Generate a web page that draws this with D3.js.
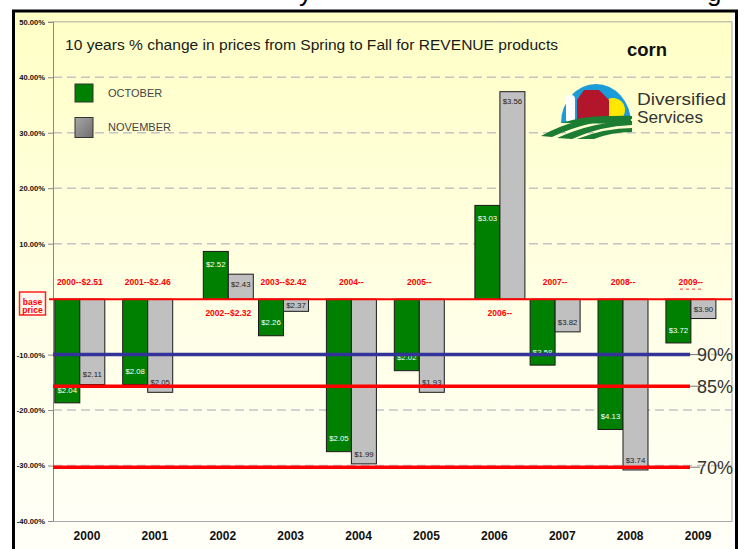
<!DOCTYPE html>
<html><head><meta charset="utf-8">
<script src="https://cdn.jsdelivr.net/npm/d3@7"></script>
<style>body{margin:0;background:#fff}svg{display:block}</style>
</head><body>
<svg id="c" width="746" height="549"></svg>
<script>
const years = ["2000","2001","2002","2003","2004","2005","2006","2007","2008","2009"];
const octoberPct = [-18.7,-15.4,8.6,-6.6,-27.5,-12.9,16.9,-11.9,-23.5,-7.9];
const novemberPct = [-15.4,-16.8,4.5,-2.2,-29.7,-16.8,37.4,-5.9,-30.8,-3.5];
const octoberPrice = ["$2.04","$2.08","$2.52","$2.26","$2.05","$2.02","$3.03","$3.58","$4.13","$3.72"];
const novemberPrice = ["$2.11","$2.05","$2.43","$2.37","$1.99","$1.93","$3.56","$3.82","$3.74","$3.90"];
const baseLabels = ["2000--$2.51","2001--$2.46","2002--$2.32","2003--$2.42","2004--","2005--","2006--","2007--","2008--","2009--"];
const seriesNames = ["OCTOBER","NOVEMBER"];
const yTicks = [50,40,30,20,10,-10,-20,-30,-40];
const refLevels = [-10,-15.7,-30.3];
const refLabels = ["90%","85%","70%"];
const titleText = "10 years % change in prices from Spring to Fall for REVENUE products";
const cropText = "corn";

const svg = d3.select("#c");
const FONT = "'Liberation Sans', Arial, sans-serif";

// gradient
const defs = svg.append("defs");
const gr = defs.append("linearGradient").attr("id","bg").attr("x1",0).attr("y1",0).attr("x2",0).attr("y2",1);
gr.append("stop").attr("offset","0%").attr("stop-color","#ffffc6");
gr.append("stop").attr("offset","55%").attr("stop-color","#ffffe6");
gr.append("stop").attr("offset","100%").attr("stop-color","#fffff8");
const gg = defs.append("linearGradient").attr("id","lg").attr("x1",0).attr("y1",0).attr("x2",1).attr("y2",1);
gg.append("stop").attr("offset","0%").attr("stop-color","#a8a8a8");
gg.append("stop").attr("offset","100%").attr("stop-color","#6e6e6e");

// cropped text fragments above the frame
svg.append("text").attr("x",299).attr("y",1).attr("font-family",FONT).attr("font-size",26).attr("fill","#000").text("y");
svg.append("text").attr("x",707).attr("y",1).attr("font-family",FONT).attr("font-size",26).attr("fill","#000").text("g");

svg.append("rect").attr("x",14).attr("y",12).attr("width",718).attr("height",540).attr("fill","url(#bg)");

// frame
svg.append("path").attr("d","M13.5,549 V11 H736.5 V549").attr("fill","none").attr("stroke","#000").attr("stroke-width",3);

const x = d3.scaleBand().domain(years).range([53,732]).padding(0);
const sub = d3.scaleBand().domain(seriesNames).range([0,50]);
const y = d3.scaleLinear().domain([-40,50]).range([521,21.8]);

// gridlines
svg.append("g").selectAll("line").data(yTicks.filter(d => d !== 50 && d !== -40)).join("line")
  .attr("x1",53).attr("x2",732).attr("y1",d=>y(d)).attr("y2",d=>y(d))
  .attr("stroke","#c4c4c4").attr("stroke-width",1.5).attr("stroke-dasharray","9,5");

// plot border
svg.append("path").attr("d",`M53,${y(50)} H732 V${y(-40)}`).attr("fill","none").attr("stroke","#a8a8a8").attr("stroke-width",1);

// y axis
const ya = svg.append("g").attr("transform","translate(53,0)")
  .call(d3.axisLeft(y).tickValues(yTicks).tickSize(5).tickPadding(3).tickFormat(d => d.toFixed(2) + "%"));
ya.select(".domain").attr("stroke","#888");
ya.selectAll(".tick line").attr("stroke","#888");
ya.selectAll("text").attr("font-family",FONT).attr("font-size",7.6).attr("font-weight","bold").attr("fill","#111");

// x axis
const xa = svg.append("g").attr("transform",`translate(0,${y(-40)})`)
  .call(d3.axisBottom(x).tickSize(0).tickPadding(10));
xa.select(".domain").attr("stroke","#a8a8a8");
xa.selectAll("text").attr("font-family",FONT).attr("font-size",12).attr("font-weight","bold").attr("fill","#111");

// bars
const groups = years.map((yr,i) => ({yr, i, vals:[octoberPct[i], novemberPct[i]], prices:[octoberPrice[i], novemberPrice[i]]}));
const groupLeft = g => x(g.yr) + (g.vals[0] > 0 && g.vals[1] > 0 ? 14.5 : 1.8);
const fills = ["#008000","#c0c0c0"];
const txtFill = ["#ffffff","#222222"];
const bars = [];
groups.forEach(g => g.vals.forEach((v,k) => bars.push({g, v, k, price:g.prices[k]})));

svg.append("g").selectAll("rect").data(bars).join("rect")
  .attr("x", d => groupLeft(d.g) + sub(seriesNames[d.k]))
  .attr("width", sub.bandwidth())
  .attr("y", d => y(Math.max(0,d.v)))
  .attr("height", d => Math.abs(y(d.v) - y(0)))
  .attr("fill", d => fills[d.k]).attr("stroke","#1a1a1a").attr("stroke-width",1);

svg.append("g").selectAll("text").data(bars).join("text")
  .attr("x", d => groupLeft(d.g) + sub(seriesNames[d.k]) + sub.bandwidth()/2)
  .attr("y", d => {
    const len = Math.abs(y(d.v) - y(0));
    const off = Math.min(d.k === 0 ? 13 : 10, len/2);
    return d.v < 0 ? y(d.v) - off : y(d.v) + off;
  })
  .attr("dy","0.35em").attr("text-anchor","middle")
  .attr("font-family",FONT).attr("font-size",7.8)
  .attr("fill", d => txtFill[d.k]).text(d => d.price);

// reference lines
const refColors = ["#333399","#ff0000","#ff0000"];
svg.append("g").selectAll("line").data(refLevels).join("line")
  .attr("x1",53).attr("x2",690).attr("y1",d=>y(d)).attr("y2",d=>y(d))
  .attr("stroke",(d,i)=>refColors[i]).attr("stroke-width",3.5);
svg.append("g").selectAll("line").data(refLevels).join("line")
  .attr("x1",690).attr("x2",700).attr("y1",d=>y(d)).attr("y2",d=>y(d))
  .attr("stroke","#777").attr("stroke-width",1);
svg.append("g").selectAll("text").data(refLevels).join("text")
  .attr("x",697).attr("y",d=>y(d)).attr("dy","0.36em")
  .attr("font-family",FONT).attr("font-size",18).attr("fill","#333").text((d,i)=>refLabels[i]);

// zero line
svg.append("line").attr("x1",49).attr("x2",732).attr("y1",y(0)).attr("y2",y(0)).attr("stroke","#ff0000").attr("stroke-width",2);

// base labels
svg.append("g").selectAll("text").data(groups).join("text")
  .attr("x", g => groupLeft(g) + 25)
  .attr("y", g => (g.vals[0] > 0 ? y(0) + 14 : y(0) - 17))
  .attr("dy","0.35em").attr("text-anchor","middle")
  .attr("font-family",FONT).attr("font-size",8.5).attr("font-weight","bold").attr("fill","#ff0000")
  .text(g => baseLabels[g.i]);
// clipped remainder under the last label, shown as short red dashes
const lastG = groups[groups.length-1];
svg.append("line").attr("x1",groupLeft(lastG)+14).attr("x2",groupLeft(lastG)+37)
  .attr("y1",y(0)-10).attr("y2",y(0)-10)
  .attr("stroke","#ff3030").attr("stroke-width",1).attr("stroke-dasharray","3,3");

// base price box
svg.append("rect").attr("x",19.5).attr("y",292).attr("width",26).attr("height",23)
  .attr("fill","#fff6ee").attr("stroke","#ff2020").attr("stroke-width",1.5);
svg.append("text").attr("x",32.5).attr("y",302).attr("dy","0.35em").attr("text-anchor","middle")
  .attr("font-family",FONT).attr("font-size",8.5).attr("font-weight","bold").attr("fill","#ff0000").text("base");
svg.append("text").attr("x",32.5).attr("y",310.5).attr("dy","0.35em").attr("text-anchor","middle")
  .attr("font-family",FONT).attr("font-size",8.5).attr("font-weight","bold").attr("fill","#ff0000").text("price");

// title
svg.append("text").attr("x",65).attr("y",50).attr("font-family","'Liberation Sans Narrow','Liberation Sans',Arial,sans-serif")
  .attr("font-size",15.5).attr("fill","#1a1a1a").attr("textLength",493).attr("lengthAdjust","spacingAndGlyphs").text(titleText);
svg.append("text").attr("x",627).attr("y",56).attr("font-family",FONT)
  .attr("font-size",18).attr("font-weight","bold").attr("fill","#111").attr("textLength",40).attr("lengthAdjust","spacingAndGlyphs").text(cropText);

// legend
const legFill = ["#008000","url(#lg)"];
const leg = svg.append("g").selectAll("g").data(seriesNames).join("g")
  .attr("transform",(d,i)=>`translate(75,${84 + i*33.5})`);
leg.append("rect").attr("width",18).attr("height",(d,i)=> i ? 20 : 18).attr("fill",(d,i)=>legFill[i]).attr("stroke","#333").attr("stroke-width",1);
leg.append("text").attr("x",33).attr("y",(d,i)=> i ? 10 : 9).attr("dy","0.35em")
  .attr("font-family",FONT).attr("font-size",11).attr("fill","#444").text(d=>d);

// logo
const lg = svg.append("g");
lg.append("path").attr("d","M561,123 A35,39 0 0 1 631,123 Z").attr("fill","#1b9bd7");
lg.append("circle").attr("cx",613).attr("cy",110).attr("r",12).attr("fill","#ffe800");
lg.append("rect").attr("x",566).attr("y",95).attr("width",9).attr("height",28).attr("rx",4).attr("fill","#ffffff");
lg.append("path").attr("d","M577,123 V100 L584,90 H599 L609,100 V123 Z").attr("fill","#b3152b");
lg.append("path").attr("d","M561,123 Q596,112 631,118 L631,124 Z").attr("fill","#1c7d32");
lg.append("path").attr("d","M541,136 Q580,114 632,116 L632,119 Q590,119 552,137 Z").attr("fill","#1c7d32");
lg.append("path").attr("d","M557,138 Q595,121 632,121 L632,125 Q600,126 572,139 Z").attr("fill","#1c7d32");
lg.append("path").attr("d","M577,139 Q605,128 632,128 L632,132 Q612,132 594,139 Z").attr("fill","#1c7d32");
lg.append("text").attr("x",637).attr("y",105).attr("font-family",FONT).attr("font-size",16.5).attr("fill","#333")
  .attr("textLength",89).attr("lengthAdjust","spacingAndGlyphs").text("Diversified");
lg.append("text").attr("x",637).attr("y",123).attr("font-family",FONT).attr("font-size",16.5).attr("fill","#333")
  .attr("textLength",66).attr("lengthAdjust","spacingAndGlyphs").text("Services");
</script>
</body></html>
